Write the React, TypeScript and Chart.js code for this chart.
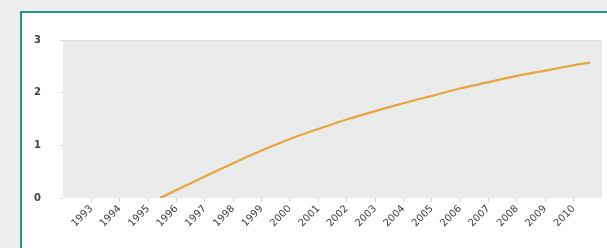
import React, { useEffect, useRef } from "react";
import { Chart, registerables } from "chart.js";

Chart.register(...registerables);

const tickYears = [1993, 1994, 1995, 1996, 1997, 1998, 1999, 2000, 2001, 2002, 2003, 2004, 2005, 2006, 2007, 2008, 2009, 2010];
const lineYears = [1995.42, 1996, 1997, 1998, 1999, 2000, 2001, 2002, 2003, 2004, 2005, 2006, 2007, 2008, 2009, 2010, 2010.58];
const lineValues = [0, 0.15, 0.41, 0.66, 0.9, 1.12, 1.31, 1.49, 1.65, 1.8, 1.94, 2.08, 2.2, 2.32, 2.42, 2.52, 2.57];
const yTicks = [0, 1, 2, 3];

const plotBg = {
  id: "plotBg",
  beforeDraw(chart: any) {
    const { ctx, chartArea } = chart;
    if (!chartArea) return;
    ctx.save();
    ctx.fillStyle = "#eaeceb";
    ctx.fillRect(chartArea.left, chartArea.top, chartArea.right - chartArea.left, chartArea.bottom - chartArea.top);
    ctx.strokeStyle = "#e0e1e0";
    ctx.lineWidth = 1;
    ctx.beginPath();
    ctx.moveTo(chartArea.left, chartArea.top + 0.5);
    ctx.lineTo(chartArea.right, chartArea.top + 0.5);
    ctx.stroke();
    ctx.restore();
  },
};

export default function App() {
  const ref = useRef<HTMLCanvasElement>(null);
  useEffect(() => {
    if (!ref.current) return;
    const chart = new Chart(ref.current, {
      type: "line",
      data: {
        datasets: [
          {
            data: lineYears.map((x, i) => ({ x, y: lineValues[i] })),
            borderColor: "#e9a43c",
            borderWidth: 2.2,
            pointRadius: 0,
            tension: 0.3,
            fill: false,
          },
        ],
      },
      plugins: [plotBg],
      options: {
        animation: false,
        responsive: false,
        maintainAspectRatio: false,
        layout: { padding: { left: 30, top: 40, right: 5, bottom: 0 } },
        plugins: { legend: { display: false }, tooltip: { enabled: false } },
        scales: {
          x: {
            type: "linear",
            min: 1992,
            max: 2011,
            afterFit: (s: any) => {
              s.height = 50;
            },
            afterBuildTicks: (s: any) => {
              s.ticks = tickYears.map((v) => ({ value: v }));
            },
            border: { display: false },
            grid: { drawOnChartArea: false, tickLength: 4, color: "#cfd0cf" },
            ticks: {
              minRotation: 45,
              maxRotation: 45,
              autoSkip: false,
              padding: 1,
              color: "#3a3a3a",
              font: { family: "DejaVu Sans", size: 10 },
              callback: (v: any) => String(v),
            },
          },
          y: {
            min: 0,
            max: 3,
            afterFit: (s: any) => {
              s.width = 33;
            },
            afterBuildTicks: (s: any) => {
              s.ticks = yTicks.map((v) => ({ value: v }));
            },
            border: { display: false },
            grid: { drawOnChartArea: false, tickLength: 3, color: "#d8d9d8" },
            ticks: {
              padding: 19,
              color: "#444",
              font: { family: "DejaVu Sans", size: 10, weight: "bold" },
            },
          },
        },
      },
    } as any);
    return () => chart.destroy();
  }, []);

  return (
    <div style={{ position: "fixed", left: 0, top: 0, width: 607, height: 248, background: "#efeeec", overflow: "hidden" }}>
      <div
        style={{
          position: "absolute",
          left: 20,
          top: 11,
          width: 620,
          height: 260,
          border: "2px solid #17998b",
          background: "#ffffff",
        }}
      />
      <canvas ref={ref} width={607} height={248} style={{ position: "absolute", left: 0, top: 0, width: 607, height: 248 }} />
    </div>
  );
}
